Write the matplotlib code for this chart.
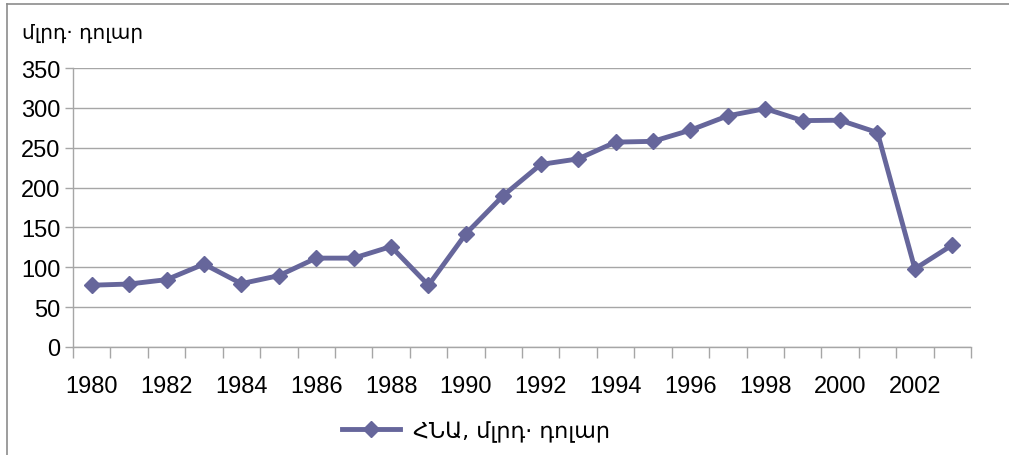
import numpy as np
import matplotlib.pyplot as plt
from matplotlib.lines import Line2D

plt.rcParams['font.family'] = ['Liberation Sans', 'DejaVu Sans']

years = list(range(1980, 2004))
gdp = [77.5, 79, 84.5, 104, 79.5, 89.5, 111.5, 111.5, 126, 77.5,
       142, 190, 229, 236, 257, 258, 272, 290, 299, 284,
       284.5, 269, 98, 128]
ylabel = 'մլրդ· դոլար'
series_name = 'ՀՆԱ, մլրդ· դոլար'

col = '#66669b'
grid_col = '#a6a6a6'

fig = plt.figure(figsize=(10.09, 4.56), dpi=100)
ax = fig.add_axes([73/1009, 1-348/456, (971-73)/1009, (348-69)/456])

x = np.arange(len(years))
ax.plot(x, gdp, color=col, lw=3.5, marker='D', ms=8.5, mfc=col, mec=col,
        label=series_name)

ax.set_xlim(-0.5, len(years)-0.5)
ax.set_ylim(0, 350)
ax.set_yticks(np.arange(0, 351, 50))
ax.yaxis.grid(True, color=grid_col, lw=1)
ax.set_axisbelow(True)

ax.set_xticks(x[::2])
ax.set_xticklabels([str(y) for y in years[::2]])
ax.set_xticks(np.arange(-0.5, len(years)), minor=True)
ax.tick_params(axis='x', which='major', length=0, pad=20, labelsize=17)
ax.tick_params(axis='x', which='minor', length=8, color=grid_col, width=1)
ax.tick_params(axis='y', length=6, color=grid_col, width=1, labelsize=17, pad=3)

for s in ['top', 'right']:
    ax.spines[s].set_visible(False)
for s in ['left', 'bottom']:
    ax.spines[s].set_color(grid_col)
    ax.spines[s].set_linewidth(1)

fig.text(22/1009, 1-33/456, ylabel, fontsize=14.5, va='center', ha='left',
         family=['DejaVu Sans'])

leg = fig.legend(loc='center', bbox_to_anchor=(0.472, 1-432/456), frameon=False,
                 handlelength=2.6, handletextpad=0.6,
                 prop={'family': ['DejaVu Sans'], 'size': 16})

# outer chart frame (left and top edges visible)
fig.add_artist(Line2D([7/1009, 7/1009], [0, 1-5/456], color='#8c8c8c', lw=1.2,
                      transform=fig.transFigure))
fig.add_artist(Line2D([7/1009, 1], [1-5/456, 1-5/456], color='#8c8c8c', lw=1.2,
                      transform=fig.transFigure))

fig.savefig('out.png', dpi=100)
